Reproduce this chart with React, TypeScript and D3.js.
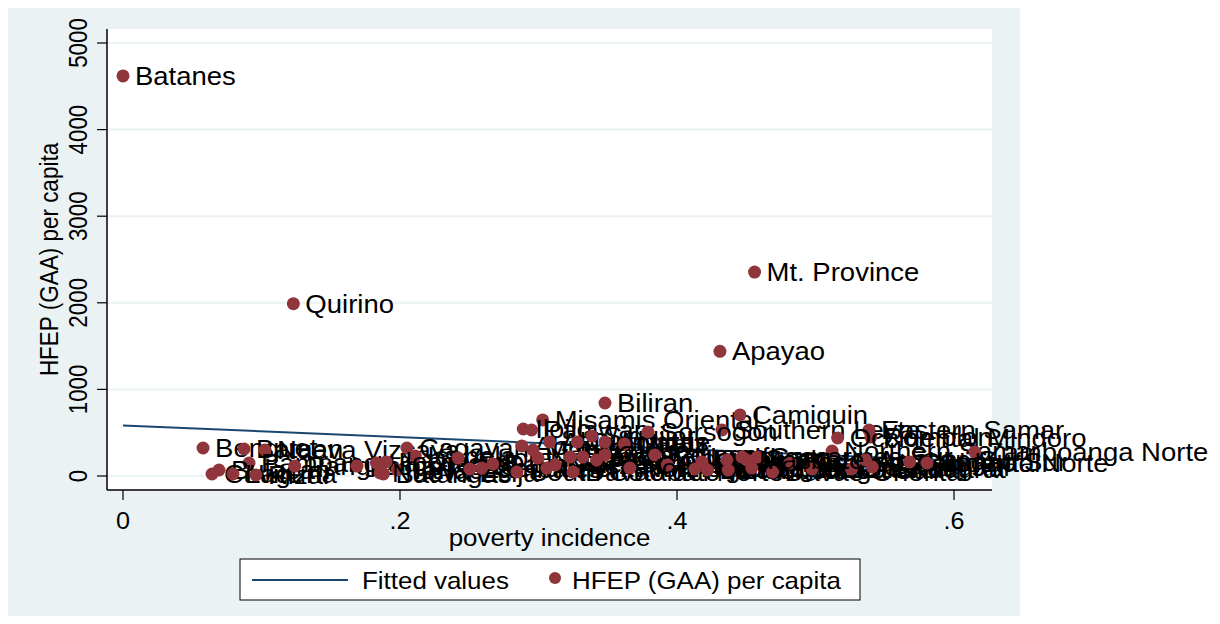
import React from "react";
import * as d3 from "d3";

// ---- data ----
const provinces = [
  "Batanes", "Quirino", "Mt. Province", "Apayao", "Biliran", "Misamis Oriental", "Camiguin",
  "Southern Leyte", "Eastern Samar", "Romblon", "Occidental Mindoro", "Northern Samar",
  "Zamboanga Norte", "Benguet", "Bataan", "Nueva Vizcaya", "Pampanga", "Cavite", "Bulacan",
  "Laguna", "Rizal", "Pangasinan", "Ilocos Norte", "La Union", "Batangas", "Tarlac", "Cagayan",
  "Isabela", "Nueva Ecija", "Ilocos Sur", "Aurora", "Zambales", "Cebu", "Davao del Sur",
  "South Cotabato", "Abra", "Iloilo", "Palawan", "Marinduque", "Negros Occidental", "Aklan",
  "Oriental Mindoro", "Quezon", "Bohol", "Davao del Norte", "Guimaras", "Siquijor", "Antique",
  "Capiz", "Sorsogon", "Leyte", "Albay", "Catanduanes", "Kalinga", "Bukidnon", "North Cotabato",
  "Agusan Norte", "Camarines Norte", "Lanao Norte", "Samar", "Zamboanga Sur", "Ifugao",
  "Negros Oriental", "Camarines Sur", "Davao Oriental", "Misamis Occidental", "Sultan Kudarat",
  "Basilan", "Agusan Sur", "Sarangani", "Surigao Sur", "Surigao Norte", "Masbate",
];
const poverty = [
  0.0, 0.123, 0.456, 0.431, 0.348, 0.303, 0.4455,
  0.4325, 0.5386, 0.54, 0.516, 0.512,
  0.615, 0.0578, 0.0874, 0.1025, 0.091, 0.0643, 0.0693,
  0.0794, 0.096, 0.124, 0.169, 0.183, 0.188, 0.198, 0.205,
  0.211, 0.1856, 0.19, 0.242, 0.2505, 0.259, 0.267,
  0.2845, 0.288, 0.289, 0.295, 0.296, 0.2996, 0.308,
  0.306, 0.312, 0.323, 0.325, 0.328, 0.3386, 0.348,
  0.362, 0.379, 0.332, 0.342, 0.348, 0.384, 0.393, 0.366,
  0.413, 0.418, 0.422, 0.436, 0.437, 0.447,
  0.454, 0.458, 0.469, 0.4816, 0.4975,
  0.526, 0.536, 0.541, 0.568, 0.5805, 0.4505,
];
const hfep = [
  4620, 1990, 2355, 1440, 843, 647, 705,
  531, 531, 450, 439, 289,
  277, 323, 312, 300, 150, 23, 69,
  23, 12, 115, 115, 150, 23, 69, 323,
  231, 35, 162, 208, 81, 92, 139,
  46, 347, 543, 531, 300, 208, 393,
  92, 127, 219, 46, 393, 462, 393,
  370, 508, 219, 185, 243, 243, 127, 92,
  81, 162, 69, 185, 69, 219,
  92, 219, 46, 150, 81,
  81, 185, 104, 162, 150, 185,
];

const yTicks = [0, 1000, 2000, 3000, 4000, 5000];
const xTicks = [0, 0.2, 0.4, 0.6];
const xTickLabels = ["0", ".2", ".4", ".6"];
const xTitle = "poverty incidence";
const yTitle = "HFEP (GAA) per capita";
const legendLabels = ["Fitted values", "HFEP (GAA) per capita"];

const FONT = "'Liberation Sans', Arial, Helvetica, sans-serif";
const BG = "#EAF2F3";
const MARKER = "#90353B";
const LINE = "#1A476F";

export default function App() {
  const plot = { x0: 99, x1: 984, y0: 21, y1: 482 };
  const x = d3.scaleLinear().domain([0, 0.6]).range([115, 946]);
  const y = d3.scaleLinear().domain([0, 5000]).range([468, 35]);

  // least-squares fitted line
  const mx = d3.mean(poverty) as number;
  const my = d3.mean(hfep) as number;
  let sxy = 0, sxx = 0;
  poverty.forEach((v, i) => { sxy += (v - mx) * (hfep[i] - my); sxx += (v - mx) ** 2; });
  const slope = sxy / sxx;
  const icpt = my - slope * mx;
  const [xmin, xmax] = d3.extent(poverty) as [number, number];
  const fitPts: [number, number][] = [[xmin, icpt + slope * xmin], [xmax, icpt + slope * xmax]];
  const line = d3.line<[number, number]>().x(d => x(d[0])).y(d => y(d[1]));

  return (
    <svg width={1200} height={608} style={{ display: "block", overflow: "visible" }} fontFamily={FONT}>
      <rect x={-1} y={-2} width={1013} height={614} fill={BG} />
      <rect x={plot.x0} y={plot.y0} width={plot.x1 - plot.x0} height={plot.y1 - plot.y0} fill="#fff" />
      {yTicks.map(t => (
        <line key={"g" + t} x1={plot.x0} x2={plot.x1} y1={y(t)} y2={y(t)} stroke={BG} strokeWidth={2} />
      ))}
      {/* axes */}
      <line x1={plot.x0} x2={plot.x0} y1={plot.y0} y2={plot.y1} stroke="#000" strokeWidth={1.5} />
      <line x1={plot.x0} x2={plot.x1} y1={plot.y1} y2={plot.y1} stroke="#000" strokeWidth={1.5} />
      {yTicks.map(t => (
        <g key={"yt" + t}>
          <line x1={plot.x0 - 10} x2={plot.x0} y1={y(t)} y2={y(t)} stroke="#000" strokeWidth={1.2} />
          <text transform={`translate(79,${y(t)}) rotate(-90) scale(0.86,1)`} textAnchor="middle" fontSize={26}>{t}</text>
        </g>
      ))}
      {xTicks.map((t, i) => (
        <g key={"xt" + t}>
          <line x1={x(t)} x2={x(t)} y1={plot.y1} y2={plot.y1 + 10} stroke="#000" strokeWidth={1.2} />
          <text transform={`translate(${x(t)},521) scale(1.05,1)`} textAnchor="middle" fontSize={24}>{xTickLabels[i]}</text>
        </g>
      ))}
      <text transform={`translate(${(plot.x0 + plot.x1) / 2},538) scale(1.08,1)`} textAnchor="middle" fontSize={24}>{xTitle}</text>
      <text transform={`translate(50,${(plot.y0 + plot.y1) / 2}) rotate(-90) scale(0.9,1)`} textAnchor="middle" fontSize={25}>{yTitle}</text>

      {/* fitted line */}
      <path d={line(fitPts) as string} fill="none" stroke={LINE} strokeWidth={2} />

      {/* points with labels */}
      {provinces.map((p, i) => (
        <g key={p + i}>
          <circle cx={x(poverty[i])} cy={y(hfep[i])} r={6.5} fill={MARKER} />
          <text transform={`translate(${x(poverty[i]) + 12},${y(hfep[i]) + 9}) scale(1.1,1)`} fontSize={25} fill="#000">{p}</text>
        </g>
      ))}

      {/* legend */}
      <rect x={232} y={551} width={620} height={41} fill="#fff" stroke="#000" strokeWidth={1} />
      <line x1={244} x2={340} y1={572} y2={572} stroke={LINE} strokeWidth={2} />
      <text transform="translate(354,581) scale(1.08,1)" fontSize={24}>{legendLabels[0]}</text>
      <circle cx={547} cy={570} r={6} fill={MARKER} />
      <text transform="translate(564,581) scale(1.08,1)" fontSize={24}>{legendLabels[1]}</text>
    </svg>
  );
}
